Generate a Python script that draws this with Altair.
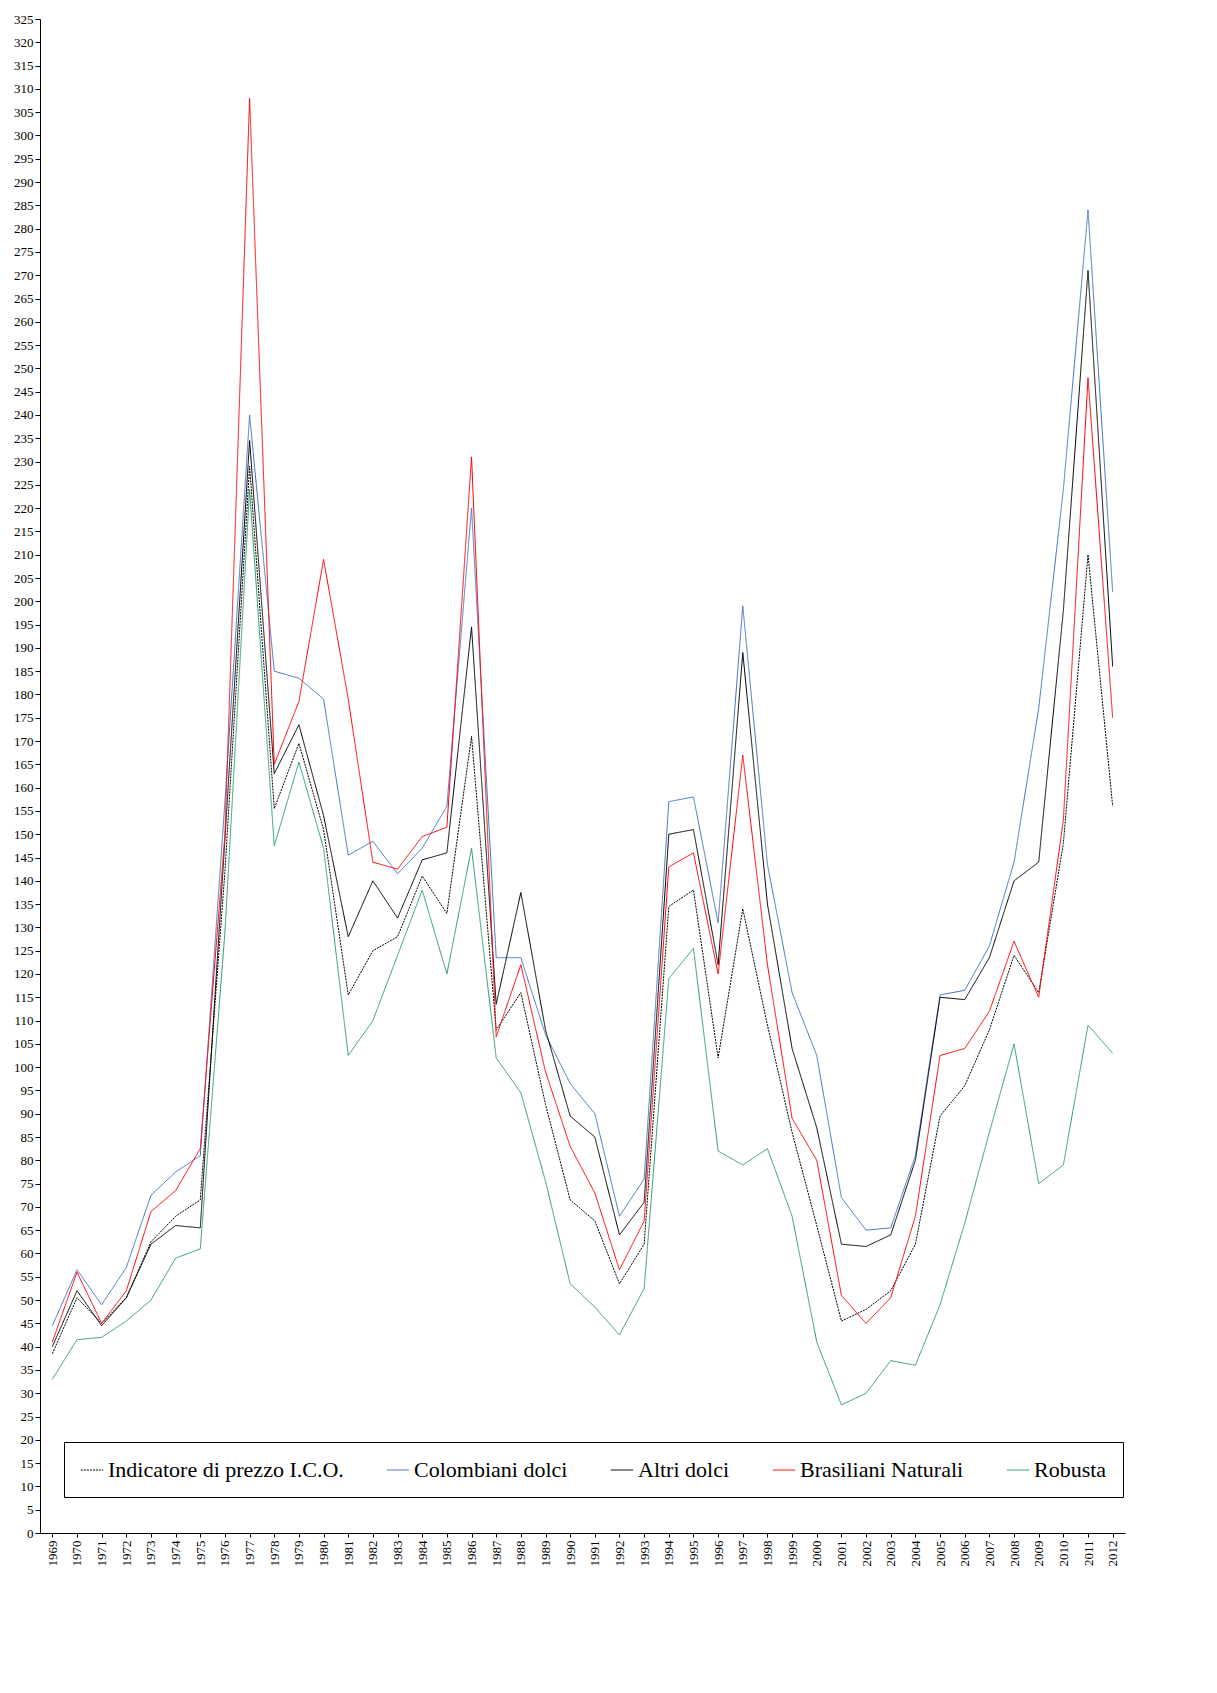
import altair as alt
import pandas as pd

years = list(range(1969, 2013))

ico = [38.5, 50.5, 45, 50.5, 62.5, 68, 71.5, 142, 229, 155.5, 169.5, 151, 115.5, 125, 128, 141, 133, 171, 108, 116, 92, 71.5,
       67, 53.5, 62, 134.5, 138, 102, 134, 109, 86, 66, 45.5, 48, 52, 62, 89.5, 96, 108, 124, 116, 148, 210, 156]
colombiani = [44.5, 56.5, 49, 57, 72.5, 77.5, 81, 157, 240, 185, 183.5, 179, 145.5, 148.5, 141.5, 147, 156, 220, 123.5, 123.5,
              107, 96.5, 90, 68, 76, 157, 158, 131, 199, 143.5, 116, 102.5, 72, 65, 65.5, 81, 115.5, 116.5, 126, 144, 177, 224, 284, 202]
altri = [40, 52, 44.5, 50.5, 62, 66, 65.5, 149, 234.5, 163, 173.5, 154, 128, 140, 132, 144.5, 146, 194.5, 113.5, 137.5, 108,
         89.5, 85, 64, 71, 150, 151, 122, 189, 135, 104, 87, 62, 61.5, 64, 80, 115, 114.5, 123.5, 140, 144, 198, 271, 186]
brasiliani = [41, 56, 45, 52, 69, 73.5, 82.5, 150, 308, 165, 178.5, 209, 179, 144, 142.5, 149.5, 151.5, 231, 106.5, 122, 99,
              83, 73, 56.5, 67, 143, 146, 120, 167, 122, 89, 80, 51, 45, 50.5, 68, 102.5, 104, 112, 127, 115, 153, 248, 175]
robusta = [33, 41.5, 42, 45.5, 50, 59, 61, 129, 224, 147.5, 165.5, 147, 102.5, 110, 124, 138, 120, 147, 102, 94.5, 75.5, 53.5,
           48.5, 42.5, 52.5, 119, 125.5, 82, 79, 82.5, 68, 41, 27.5, 30, 37, 36, 49, 66.5, 86, 105, 75, 79, 109, 103]

series = {
    "Indicatore di prezzo I.C.O.": ico,
    "Colombiani dolci": colombiani,
    "Altri dolci": altri,
    "Brasiliani Naturali": brasiliani,
    "Robusta": robusta,
}
names = list(series)
colors = ["#000000", "#4472c4", "#000000", "#ff0000", "#2e9e6b"]
dashes = [[2, 1], [1, 0], [1, 0], [1, 0], [1, 0]]

rows = []
for name, vals in series.items():
    for y, v in zip(years, vals):
        rows.append({"anno": str(y), "serie": name, "valore": v})
df = pd.DataFrame(rows)

font = "Liberation Serif"

chart = alt.Chart(df).mark_line(strokeWidth=1).encode(
    x=alt.X("anno:O", title=None, scale=alt.Scale(type="point", padding=0.5),
            axis=alt.Axis(labelAngle=-90, labelFont=font, labelFontSize=13, labelColor="black",
                          domainColor="black", tickColor="black", tickSize=4, labelPadding=3)),
    y=alt.Y("valore:Q", title=None,
            scale=alt.Scale(domain=[0, 325], nice=False),
            axis=alt.Axis(values=list(range(0, 330, 5)), grid=False, labelFont=font, labelFontSize=13,
                          labelColor="black", domainColor="black", tickColor="black", tickSize=5)),
    color=alt.Color("serie:N", sort=names, scale=alt.Scale(domain=names, range=colors),
                    legend=alt.Legend(title=None, orient="none", legendX=24, legendY=1423, direction="horizontal",
                                      columns=5, symbolType="stroke", symbolStrokeWidth=1, symbolSize=500,
                                      labelFont=font, labelFontSize=22, labelColor="black", columnPadding=40,
                                      strokeColor="black", padding=16, labelLimit=400)),
    strokeDash=alt.StrokeDash("serie:N", sort=names, scale=alt.Scale(domain=names, range=dashes), legend=None),
    order=alt.Order("anno:O"),
).properties(width=1085, height=1514).configure_view(stroke=None).configure_axis(grid=False)

chart.save("out.html", embed_options={"renderer": "svg", "actions": False})
